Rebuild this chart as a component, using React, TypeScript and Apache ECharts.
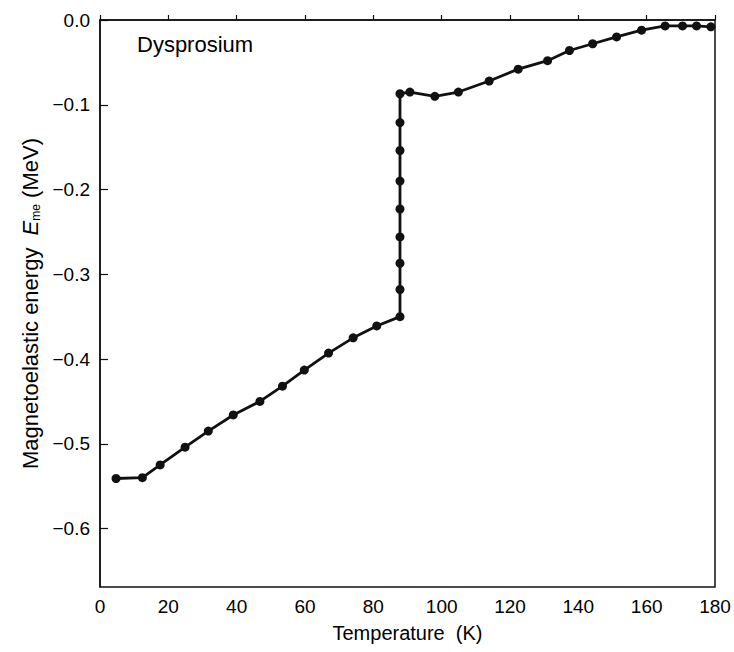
import React, { useEffect, useRef } from "react";
import * as echarts from "echarts";

const temperatures = [
  4.7, 12.4, 17.6, 24.9, 31.7, 39.0, 46.8, 53.4, 59.8, 66.9, 74.1, 81.0,
  87.8, 87.8, 87.8, 87.8, 87.8, 87.8, 87.8, 87.8, 87.8,
  90.7, 98.0, 104.9, 113.9, 122.4, 131.0, 137.4, 144.2, 151.2, 158.5,
  165.4, 170.5, 174.6, 178.8,
];
const energies = [
  -0.541, -0.54, -0.525, -0.504, -0.485, -0.466, -0.45, -0.432, -0.413, -0.393, -0.375, -0.361,
  -0.35, -0.318, -0.287, -0.256, -0.223, -0.19, -0.154, -0.121, -0.087,
  -0.085, -0.09, -0.085, -0.072, -0.058, -0.048, -0.036, -0.028, -0.02, -0.012,
  -0.007, -0.007, -0.007, -0.008,
];
const yTicks = [0, -0.1, -0.2, -0.3, -0.4, -0.5, -0.6];
const sampleLabel = "Dysprosium";

const FONT = "Liberation Sans";

export default function App() {
  const ref = useRef<HTMLDivElement>(null);
  useEffect(() => {
    document.body.style.margin = "0";
    const chart = echarts.init(ref.current!, null, { renderer: "svg" });
    const data = temperatures.map((t, i) => [t, energies[i]]);
    chart.setOption({
      animation: false,
      backgroundColor: "#fff",
      textStyle: { fontFamily: FONT, color: "#000" },
      grid: {
        left: 100,
        right: 19,
        top: 20,
        bottom: 65,
        show: true,
        borderColor: "#111",
        borderWidth: 1.5,
        backgroundColor: "transparent",
      },
      xAxis: {
        type: "value",
        min: 0,
        max: 180,
        interval: 20,
        name: "Temperature  (K)",
        nameLocation: "middle",
        nameGap: 36,
        nameTextStyle: { fontSize: 20, color: "#000", fontFamily: FONT },
        axisLine: { show: true, lineStyle: { color: "#111", width: 1.5 } },
        axisTick: { show: true, inside: true, length: 5, lineStyle: { color: "#111", width: 1.2 } },
        axisLabel: { fontSize: 19, color: "#000", margin: 10, fontFamily: FONT },
        splitLine: { show: false },
      },
      yAxis: {
        type: "value",
        min: -0.669,
        max: 0,
        name: "Magnetoelastic energy  {i|E}{sub|me} (MeV)",
        nameLocation: "middle",
        nameRotate: 90,
        nameGap: 44,
        nameTextStyle: {
          fontSize: 22,
          color: "#000",
          fontFamily: FONT,
          rich: {
            i: { fontSize: 22, fontStyle: "italic", fontFamily: FONT, color: "#000" },
            sub: { fontSize: 12, fontFamily: FONT, color: "#000", verticalAlign: "bottom", padding: [9, 0, 0, 0] },
          },
        },
        axisLine: { show: true, lineStyle: { color: "#111", width: 1.5 } },
        axisTick: {
          show: true,
          inside: true,
          length: 8,
          customValues: yTicks,
          lineStyle: { color: "#111", width: 1.2 },
        },
        axisLabel: {
          fontSize: 19,
          color: "#000",
          margin: 10,
          fontFamily: FONT,
          customValues: yTicks,
          formatter: (v: number) => (v === 0 ? "0.0" : "\u2212" + Math.abs(v).toFixed(1)),
        },
        splitLine: { show: false },
      },
      graphic: [
        {
          type: "text",
          left: 137,
          top: 33,
          style: { text: sampleLabel, fontSize: 22, fontFamily: FONT, fill: "#000" },
        },
      ],
      series: [
        {
          type: "line",
          data,
          symbol: "circle",
          symbolSize: 9,
          showAllSymbol: true,
          lineStyle: { color: "#111", width: 2.8 },
          itemStyle: { color: "#111" },
          clip: false,
        },
      ],
    });
    return () => chart.dispose();
  }, []);
  return <div ref={ref} style={{ width: 734, height: 652 }} />;
}
